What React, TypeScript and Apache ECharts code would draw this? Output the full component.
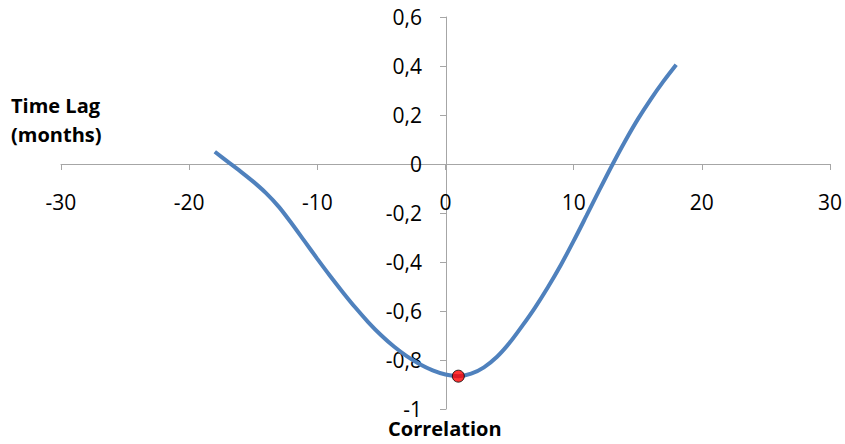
import React, { useEffect, useRef } from "react";
import * as echarts from "echarts";

const lags = [-18, -17, -16, -15, -14, -13, -12, -11, -10, -9, -8, -7, -6, -5, -4, -3, -2, -1, 0, 1, 2, 3, 4, 5, 6, 7, 8, 9, 10, 11, 12, 13, 14, 15, 16, 17, 18];
const correlations = [0.05, 0.01, -0.03, -0.072, -0.119, -0.175, -0.243, -0.315, -0.387, -0.457, -0.524, -0.588, -0.647, -0.7, -0.746, -0.785, -0.817, -0.842, -0.859, -0.866, -0.856, -0.83, -0.788, -0.73, -0.66, -0.585, -0.502, -0.412, -0.314, -0.211, -0.107, -0.005, 0.092, 0.182, 0.263, 0.337, 0.405];
const minPoint = [1, -0.866];
const xTicks = { min: -30, max: 30, interval: 10 };
const yTicks = { min: -1, max: 0.6, interval: 0.2 };
const yTitle = "Time Lag\n(months)";
const xTitle = "Correlation";

const FONT = '"Open Sans", "Noto Sans", sans-serif';
const GRID = { left: 61, right: 14, top: 17, bottom: 35 };
const W = 845;
const H = 444;

export default function App() {
  const ref = useRef<HTMLDivElement>(null);
  useEffect(() => {
    if (!ref.current) return;
    const chart = echarts.init(ref.current, null, { renderer: "svg" });
    const axisLineColor = "#a6a6a6";
    const gridW = W - GRID.left - GRID.right;
    const gridH = H - GRID.top - GRID.bottom;
    // move axes so they cross at zero (via axis offset, computed from the axis ranges)
    const xAxisOffset = -gridH * (0 - yTicks.min) / (yTicks.max - yTicks.min);
    const yAxisOffset = -gridW * (0 - xTicks.min) / (xTicks.max - xTicks.min);
    chart.setOption({
      animation: false,
      backgroundColor: "#ffffff",
      grid: { ...GRID, containLabel: false },
      xAxis: {
        type: "value",
        position: "bottom",
        offset: xAxisOffset,
        min: xTicks.min,
        max: xTicks.max,
        interval: xTicks.interval,
        axisLine: { show: true, onZero: false, lineStyle: { color: axisLineColor, width: 1 } },
        axisTick: { show: true, length: 6, lineStyle: { color: axisLineColor } },
        splitLine: { show: false },
        axisLabel: {
          margin: 27,
          fontFamily: FONT,
          fontSize: 21,
          color: "#000000",
          showMinLabel: true,
          showMaxLabel: true,
        },
      },
      yAxis: {
        type: "value",
        position: "left",
        offset: yAxisOffset,
        min: yTicks.min,
        max: yTicks.max,
        interval: yTicks.interval,
        axisLine: { show: true, onZero: false, lineStyle: { color: axisLineColor, width: 1 } },
        axisTick: { show: true, length: 6, lineStyle: { color: axisLineColor } },
        splitLine: { show: false },
        axisLabel: {
          margin: 24,
          fontFamily: FONT,
          fontSize: 21,
          color: "#000000",
          showMinLabel: true,
          showMaxLabel: true,
          formatter: (v: number) => String(Number(v.toFixed(1))).replace(".", ","),
        },
      },
      graphic: [
        {
          type: "text",
          left: 11,
          top: 91,
          style: {
            text: yTitle,
            font: `bold 20px ${FONT}`,
            lineHeight: 29,
            fill: "#000000",
          },
        },
        {
          type: "text",
          left: 388,
          top: 418,
          style: {
            text: xTitle,
            font: `bold 20px ${FONT}`,
            fill: "#000000",
          },
        },
      ],
      series: [
        {
          type: "line",
          data: lags.map((x, i) => [x, correlations[i]]),
          smooth: 0.3,
          showSymbol: false,
          lineStyle: { color: "#4f81bd", width: 4 },
          z: 2,
        },
        {
          type: "scatter",
          data: [minPoint],
          symbol: "circle",
          symbolSize: 12,
          itemStyle: { color: "#ff0000", borderColor: "#000000", borderWidth: 1 },
          z: 3,
        },
      ],
    });
    return () => chart.dispose();
  }, []);
  return <div ref={ref} style={{ width: W, height: H, position: "absolute", left: 0, top: 0 }} />;
}
